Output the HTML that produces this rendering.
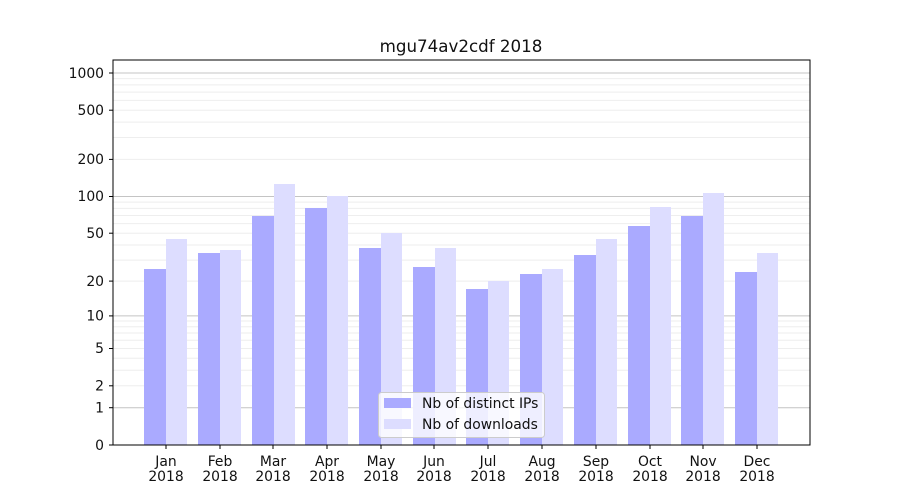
<!DOCTYPE html>
<html><head><style>body{margin:0;background:#fff}svg{display:block}text{font-family:"DejaVu Sans","Liberation Sans",sans-serif;fill:#111}</style></head>
<body>
<svg width="900" height="500" xmlns="http://www.w3.org/2000/svg">
<rect width="900" height="500" fill="#fff"/>
<g stroke="#eeeeee" stroke-width="1">
<line x1="113" x2="810" y1="370.3" y2="370.3"/><line x1="113" x2="810" y1="358.3" y2="358.3"/><line x1="113" x2="810" y1="348.5" y2="348.5"/><line x1="113" x2="810" y1="340.2" y2="340.2"/><line x1="113" x2="810" y1="333" y2="333"/><line x1="113" x2="810" y1="326.7" y2="326.7"/><line x1="113" x2="810" y1="321" y2="321"/><line x1="113" x2="810" y1="385.8" y2="385.8"/>
<line x1="113" x2="810" y1="281.1" y2="281.1"/><line x1="113" x2="810" y1="260.1" y2="260.1"/><line x1="113" x2="810" y1="245" y2="245"/><line x1="113" x2="810" y1="233.2" y2="233.2"/><line x1="113" x2="810" y1="223.6" y2="223.6"/><line x1="113" x2="810" y1="215.5" y2="215.5"/><line x1="113" x2="810" y1="208.4" y2="208.4"/><line x1="113" x2="810" y1="202.1" y2="202.1"/>
<line x1="113" x2="810" y1="159.4" y2="159.4"/><line x1="113" x2="810" y1="137.5" y2="137.5"/><line x1="113" x2="810" y1="122.1" y2="122.1"/><line x1="113" x2="810" y1="110.2" y2="110.2"/><line x1="113" x2="810" y1="100.4" y2="100.4"/><line x1="113" x2="810" y1="92.1" y2="92.1"/><line x1="113" x2="810" y1="84.9" y2="84.9"/><line x1="113" x2="810" y1="78.6" y2="78.6"/>
</g>
<g stroke="#c4c4c4" stroke-width="1">
<line x1="113" x2="810" y1="407.7" y2="407.7"/><line x1="113" x2="810" y1="315.9" y2="315.9"/><line x1="113" x2="810" y1="196.5" y2="196.5"/><line x1="113" x2="810" y1="73" y2="73"/>
</g>
<g fill="#aaaaff">
<rect x="144" y="269" width="22" height="176"/><rect x="198" y="253" width="22" height="192"/><rect x="252" y="216" width="22" height="229"/><rect x="305" y="208" width="22" height="237"/><rect x="359" y="248" width="22" height="197"/><rect x="413" y="267" width="22" height="178"/><rect x="466" y="289" width="22" height="156"/><rect x="520" y="274" width="22" height="171"/><rect x="574" y="255" width="22" height="190"/><rect x="628" y="226" width="22" height="219"/><rect x="681" y="216" width="22" height="229"/><rect x="735" y="272" width="22" height="173"/>
</g>
<g fill="#ddddff">
<rect x="166" y="239" width="21" height="206"/><rect x="220" y="250" width="21" height="195"/><rect x="274" y="184" width="21" height="261"/><rect x="327" y="196" width="21" height="249"/><rect x="381" y="233" width="21" height="212"/><rect x="435" y="248" width="21" height="197"/><rect x="488" y="281" width="21" height="164"/><rect x="542" y="269" width="21" height="176"/><rect x="596" y="239" width="21" height="206"/><rect x="650" y="207" width="21" height="238"/><rect x="703" y="193" width="21" height="252"/><rect x="757" y="253" width="21" height="192"/>
</g>
<rect x="113" y="60" width="697" height="385" fill="none" stroke="#000" stroke-width="1"/>
<g stroke="#000">
<line x1="109" x2="113" y1="445" y2="445"/><line x1="109" x2="113" y1="407.7" y2="407.7"/><line x1="109" x2="113" y1="385.8" y2="385.8"/><line x1="109" x2="113" y1="348.5" y2="348.5"/><line x1="109" x2="113" y1="315.9" y2="315.9"/><line x1="109" x2="113" y1="281.1" y2="281.1"/><line x1="109" x2="113" y1="233.2" y2="233.2"/><line x1="109" x2="113" y1="196.5" y2="196.5"/><line x1="109" x2="113" y1="159.4" y2="159.4"/><line x1="109" x2="113" y1="110.2" y2="110.2"/><line x1="109" x2="113" y1="73" y2="73"/>
<line x1="166" x2="166" y1="445" y2="449"/><line x1="220" x2="220" y1="445" y2="449"/><line x1="273" x2="273" y1="445" y2="449"/><line x1="327" x2="327" y1="445" y2="449"/><line x1="381" x2="381" y1="445" y2="449"/><line x1="434" x2="434" y1="445" y2="449"/><line x1="488" x2="488" y1="445" y2="449"/><line x1="542" x2="542" y1="445" y2="449"/><line x1="596" x2="596" y1="445" y2="449"/><line x1="650" x2="650" y1="445" y2="449"/><line x1="703" x2="703" y1="445" y2="449"/><line x1="757" x2="757" y1="445" y2="449"/>
</g>
<g font-size="13.9" text-anchor="end">
<text x="104" y="450">0</text><text x="104" y="412.5">1</text><text x="104" y="390.5">2</text><text x="104" y="353">5</text><text x="104" y="320.5">10</text><text x="104" y="286">20</text><text x="104" y="238">50</text><text x="104" y="201">100</text><text x="104" y="164">200</text><text x="104" y="115">500</text><text x="104" y="78">1000</text>
</g>
<g font-size="13.9" text-anchor="middle">
<text x="166" y="466">Jan</text><text x="166" y="481">2018</text>
<text x="220" y="466">Feb</text><text x="220" y="481">2018</text>
<text x="273" y="466">Mar</text><text x="273" y="481">2018</text>
<text x="327" y="466">Apr</text><text x="327" y="481">2018</text>
<text x="381" y="466">May</text><text x="381" y="481">2018</text>
<text x="434" y="466">Jun</text><text x="434" y="481">2018</text>
<text x="488" y="466">Jul</text><text x="488" y="481">2018</text>
<text x="542" y="466">Aug</text><text x="542" y="481">2018</text>
<text x="596" y="466">Sep</text><text x="596" y="481">2018</text>
<text x="650" y="466">Oct</text><text x="650" y="481">2018</text>
<text x="703" y="466">Nov</text><text x="703" y="481">2018</text>
<text x="757" y="466">Dec</text><text x="757" y="481">2018</text>
</g>
<text x="461" y="52" font-size="16.7" text-anchor="middle">mgu74av2cdf 2018</text>
<rect x="378.5" y="392.5" width="166" height="45" rx="3" fill="#fff" fill-opacity="0.8" stroke="#ccc"/>
<rect x="384" y="398" width="27" height="10" fill="#aaaaff"/>
<rect x="384" y="419" width="27" height="10" fill="#ddddff"/>
<text x="422" y="408" font-size="13.9">Nb of distinct IPs</text>
<text x="422" y="429" font-size="13.9">Nb of downloads</text>
</svg>
</body></html>
